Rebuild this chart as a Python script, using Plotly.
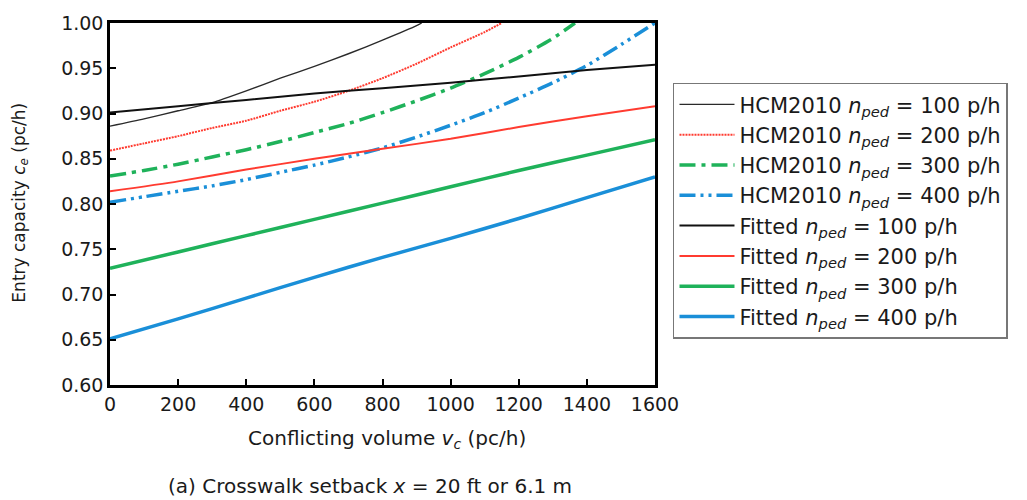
import plotly.graph_objects as go

# Conflicting volume grid (pc/h)
vc_fit = [0, 200, 400, 600, 800, 1000, 1200, 1400, 1600]

# Fitted entry-capacity curves per pedestrian volume
fit_100 = [0.901, 0.908, 0.915, 0.922, 0.928, 0.934, 0.941, 0.948, 0.954]
fit_200 = [0.814, 0.825, 0.838, 0.850, 0.861, 0.872, 0.885, 0.897, 0.908]
fit_300 = [0.729, 0.747, 0.765, 0.783, 0.801, 0.819, 0.837, 0.854, 0.871]
fit_400 = [0.651, 0.673, 0.696, 0.719, 0.741, 0.762, 0.784, 0.807, 0.830]

# HCM2010 curves (each ends where it reaches 1.00)
vc_hcm_100 = [0, 100, 200, 300, 400, 500, 600, 700, 800, 900, 915]
hcm_100 = [0.886, 0.894, 0.903, 0.912, 0.925, 0.939, 0.952, 0.966, 0.981, 0.997, 1.000]

vc_hcm_200 = [0, 100, 200, 300, 400, 500, 600, 700, 800, 900, 1000, 1100, 1150]
hcm_200 = [0.859, 0.867, 0.875, 0.884, 0.892, 0.903, 0.913, 0.925, 0.939, 0.955, 0.973, 0.990, 1.000]

vc_hcm_300 = [0, 100, 200, 300, 400, 500, 600, 700, 800, 900, 1000, 1100, 1200, 1300, 1365]
hcm_300 = [0.831, 0.837, 0.844, 0.852, 0.860, 0.869, 0.879, 0.889, 0.901, 0.914, 0.928, 0.944, 0.962, 0.983, 1.000]

vc_hcm_400 = [0, 100, 200, 300, 400, 500, 600, 700, 800, 900, 1000, 1100, 1200, 1300, 1400, 1500, 1600]
hcm_400 = [0.802, 0.808, 0.814, 0.820, 0.827, 0.835, 0.843, 0.852, 0.862, 0.874, 0.887, 0.901, 0.917, 0.934, 0.953, 0.976, 1.000]

x_ticks = [0, 200, 400, 600, 800, 1000, 1200, 1400, 1600]
y_ticks = [0.60, 0.65, 0.70, 0.75, 0.80, 0.85, 0.90, 0.95, 1.00]

BLACK = "#111111"
RED = "#ff3b30"
GREEN = "#1fb25a"
BLUE = "#1a8fd8"
FONT = "DejaVu Sans"


def label(prefix, n):
    return f"{prefix} <i>n</i><sub><i>ped</i></sub> = {n} p/h"


series = [
    (vc_hcm_100, hcm_100, label("HCM2010", 100), "#2a2a2a", 1.4, "solid"),
    (vc_hcm_200, hcm_200, label("HCM2010", 200), RED, 2, "2px,1px"),
    (vc_hcm_300, hcm_300, label("HCM2010", 300), GREEN, 3.5, "16px,6px,4px,6px"),
    (vc_hcm_400, hcm_400, label("HCM2010", 400), BLUE, 3.5, "16px,5px,3px,5px,3px,5px"),
    (vc_fit, fit_100, label("Fitted", 100), BLACK, 2, "solid"),
    (vc_fit, fit_200, label("Fitted", 200), RED, 2, "solid"),
    (vc_fit, fit_300, label("Fitted", 300), GREEN, 3.5, "solid"),
    (vc_fit, fit_400, label("Fitted", 400), BLUE, 3.5, "solid"),
]

fig = go.Figure()
for i, (xs, ys, name, color, width, dash) in enumerate(series):
    fig.add_trace(go.Scatter(
        x=xs, y=ys, mode="lines", name=name,
        line=dict(color=color, width=width, dash=dash, shape="spline", smoothing=0.6),
        legendgroup=f"g{i}",
    ))

axis_common = dict(
    showline=True, linecolor="black", linewidth=2.5, mirror=True,
    ticks="inside", ticklen=6, tickwidth=2, tickcolor="black",
    showgrid=False, zeroline=False,
    tickfont=dict(family=FONT, size=19, color="#1a1a1a"),
)

fig.update_layout(
    width=1027, height=500,
    margin=dict(l=110, r=372, t=18, b=115),
    paper_bgcolor="white", plot_bgcolor="white",
    font=dict(family=FONT, color="#1a1a1a"),
    xaxis=dict(range=[0, 1600], tickvals=x_ticks, ticktext=[str(v) for v in x_ticks], **axis_common),
    yaxis=dict(range=[0.60, 1.00], tickvals=y_ticks, ticktext=[f"{v:.2f}" for v in y_ticks], **axis_common),
    showlegend=True,
    legend=dict(
        x=1.033, xanchor="left", y=0.835, yanchor="top",
        bordercolor="#777777", borderwidth=1.5, bgcolor="white",
        font=dict(family=FONT, size=21, color="#1a1a1a"),
        itemwidth=55, tracegroupgap=0,
    ),
    annotations=[
        dict(text="Conflicting volume <i>v</i><sub><i>c</i></sub> (pc/h)",
             x=0.508, y=-0.15, xref="paper", yref="paper",
             xanchor="center", yanchor="middle", showarrow=False,
             font=dict(family=FONT, size=20, color="#1a1a1a")),
        dict(text="(a) Crosswalk setback <i>x</i> = 20 ft or 6.1 m",
             x=0.477, y=-0.278, xref="paper", yref="paper",
             xanchor="center", yanchor="middle", showarrow=False,
             font=dict(family=FONT, size=20, color="#1a1a1a")),
        dict(text="Entry capacity <i>c</i><sub><i>e</i></sub> (pc/h)",
             x=-0.165, y=0.504, xref="paper", yref="paper",
             xanchor="center", yanchor="middle", showarrow=False, textangle=-90,
             font=dict(family=FONT, size=17, color="#1a1a1a")),
    ],
)

fig.write_html("out.html")
